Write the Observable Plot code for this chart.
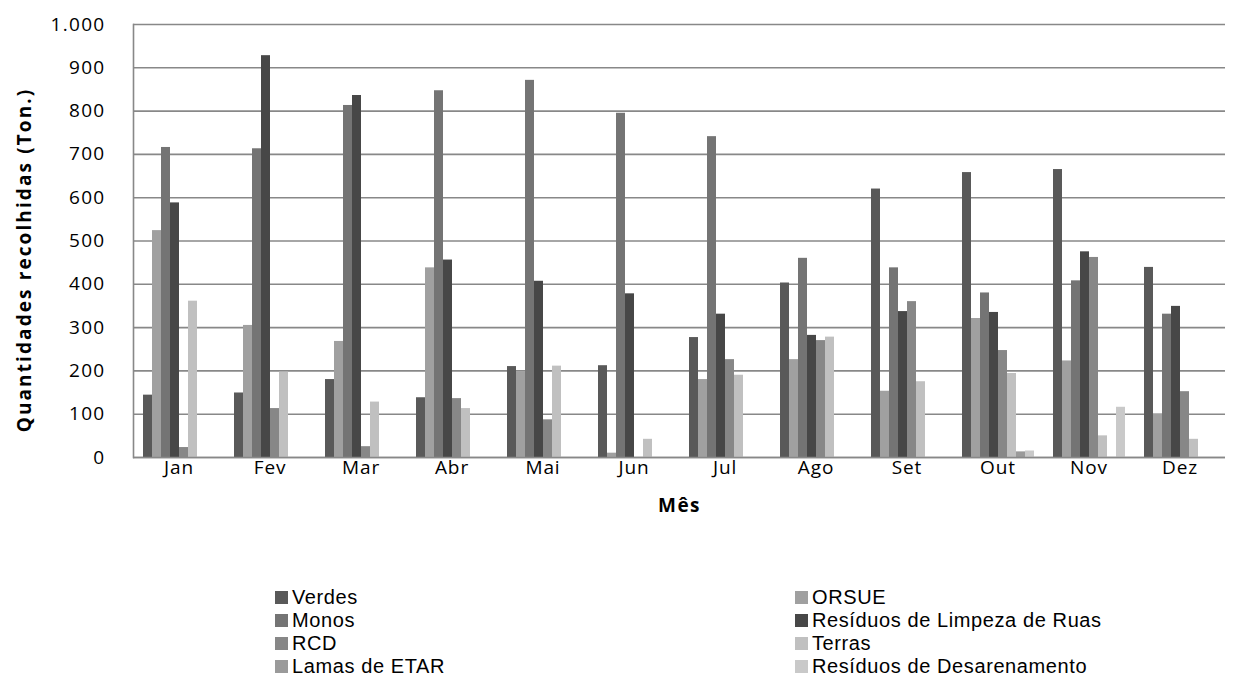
<!DOCTYPE html>
<html><head><meta charset="utf-8">
<script src="https://cdn.jsdelivr.net/npm/d3@7"></script>
<script src="https://cdn.jsdelivr.net/npm/@observablehq/plot@0.6"></script>
<style>
body{margin:0;background:#fff;font-family:"Open Sans",sans-serif;color:#000;}
#chart svg{display:block;}
g[aria-label="y-axis tick label"] text{letter-spacing:1.3px;}
g[aria-label="fx-axis tick label"] text{letter-spacing:0.9px;}
g[aria-label="fx-axis label"] text{font-weight:bold;letter-spacing:1.4px;}
#legend{display:grid;grid-template-columns:520px 420px;margin-left:275px;margin-top:41px;font-family:"Liberation Sans",sans-serif;font-size:20px;letter-spacing:0.6px;line-height:23px;}
.item{display:flex;align-items:center;height:23px;white-space:nowrap;}
.sw{width:13px;height:13px;margin-right:4px;flex:none;}
</style></head><body>
<div id="chart"></div>
<div id="legend"></div>
<script>
const months = ["Jan","Fev","Mar","Abr","Mai","Jun","Jul","Ago","Set","Out","Nov","Dez"];
const series = ["Verdes","ORSUE","Monos","Resíduos de Limpeza de Ruas","RCD","Terras","Lamas de ETAR","Resíduos de Desarenamento"];
const colors = ["#595959","#a0a0a0","#747474","#474747","#878787","#c0c0c0","#9a9a9a","#c9c9c9"];
const verdes = [144,149,180,138,210,212,277,403,620,658,665,439];
const orsue = [524,305,268,438,198,10,180,226,153,321,223,100];
const monos = [716,713,813,847,871,795,741,460,438,380,408,331];
const limpezaRuas = [588,928,836,456,407,378,331,282,337,335,475,349];
const rcd = [23,113,25,136,87,0,226,270,360,247,462,152];
const terras = [361,197,128,113,211,42,190,278,175,194,50,42];
const lamasEtar = [0,0,0,0,0,0,0,0,0,13,0,0];
const desarenamento = [0,0,0,0,0,0,0,0,0,15,116,0];
const yTicks = [0,100,200,300,400,500,600,700,800,900,1000];
const yTitle = "Quantidades recolhidas (Ton.)";
const xTitle = "Mês";

const valuesBySeries = [verdes,orsue,monos,limpezaRuas,rcd,terras,lamasEtar,desarenamento];
const data = [];
months.forEach((m,i)=>series.forEach((s,j)=>data.push({month:m,series:s,value:valuesBySeries[j][i]})));

const fmt = d3.formatLocale({decimal:",",thousands:".",grouping:[3],currency:["",""]}).format(",");

const chart = Plot.plot({
  width:1246, height:545,
  marginTop:24, marginBottom:88, marginLeft:131, marginRight:19,
  style:{fontFamily:"'Open Sans',sans-serif",fontSize:"19px",color:"#000",background:"#fff"},
  fx:{domain:months,padding:0},
  x:{domain:series,paddingInner:0,paddingOuter:0.68,axis:null},
  y:{domain:[0,1000]},
  color:{domain:series,range:colors},
  marks:[
    Plot.gridY(yTicks,{stroke:"#888",strokeOpacity:1,strokeWidth:1.6}),
    Plot.barY(data,{fx:"month",x:"series",y:"value",fill:"series"}),
    Plot.ruleY([0],{stroke:"#888",strokeWidth:1.6}),
    Plot.frame({anchor:"left",stroke:"#888",strokeWidth:1.6,facetAnchor:"left"}),
    Plot.axisY(yTicks,{tickSize:0,tickPadding:28,tickFormat:fmt,label:null}),
    Plot.text([yTitle],{text:d=>d,frameAnchor:"left",textAnchor:"middle",rotate:-90,dx:-109,dy:19,facetAnchor:"left",fill:"#000",fontWeight:"bold",fontSize:19}),
    Plot.axisFx({anchor:"bottom",tickSize:0,tickPadding:3,label:xTitle,labelAnchor:"center",labelOffset:54,labelArrow:false})
  ]
});
document.getElementById("chart").append(chart);
chart.querySelectorAll("text").forEach(t=>{ if(t.textContent===yTitle) t.style.letterSpacing="2.1px"; });

const leg = document.getElementById("legend");
series.forEach((s,j)=>{
  const it=document.createElement("div");it.className="item";
  const sw=document.createElement("span");sw.className="sw";sw.style.background=colors[j];
  const t=document.createElement("span");t.textContent=s;
  it.append(sw,t);leg.append(it);
});
</script></body></html>
